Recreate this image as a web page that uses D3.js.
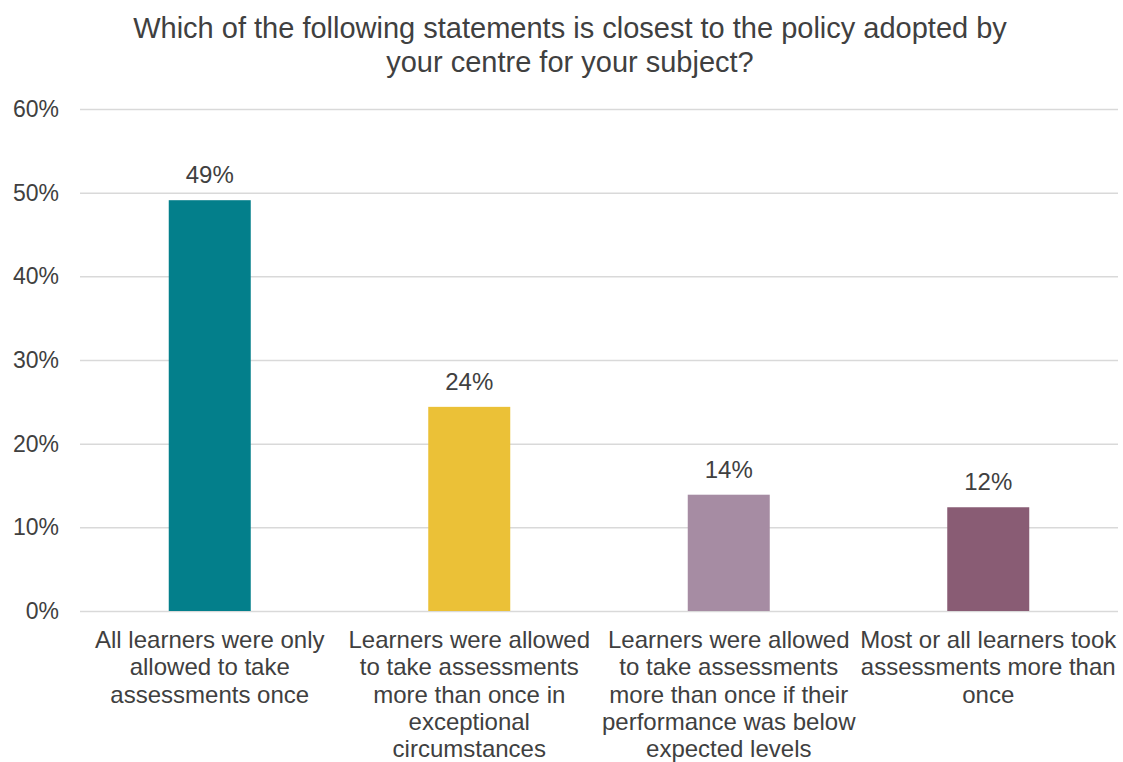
<!DOCTYPE html>
<html>
<head>
<meta charset="utf-8">
<script src="https://cdn.jsdelivr.net/npm/d3@7"></script>
<style>
  html, body { margin: 0; padding: 0; background: #fff; }
  svg { display: block; font-family: "Liberation Sans", Arial, sans-serif; }
</style>
</head>
<body>
<svg id="chart" width="1123" height="762"></svg>
<script>
// Survey responses: share of centres choosing each policy statement
const categories = [
  ["All learners were only", "allowed to take", "assessments once"],
  ["Learners were allowed", "to take assessments", "more than once in", "exceptional", "circumstances"],
  ["Learners were allowed", "to take assessments", "more than once if their", "performance was below", "expected levels"],
  ["Most or all learners took", "assessments more than", "once"]
];
const values = [0.491, 0.244, 0.139, 0.124];
const barColors = ["#037f8b", "#ebc137", "#a68ca3", "#895c74"];
const yTicks = [0, 0.1, 0.2, 0.3, 0.4, 0.5, 0.6];
const titleLines = [
  "Which of the following statements is closest to the policy adopted by",
  "your centre for your subject?"
];

const svg = d3.select("#chart");
const margin = { left: 80, right: 5, top: 109, bottom: 151 };
const W = 1123, H = 762;

const x = d3.scaleBand()
  .domain(d3.range(values.length))
  .range([margin.left, W - margin.right])
  .paddingInner(0.684)
  .paddingOuter(0.342);

const y = d3.scaleLinear()
  .domain([0, 0.6])
  .range([H - margin.bottom, margin.top]);

const pct = d3.format(".0%");

// Title
svg.append("g")
  .selectAll("text")
  .data(titleLines)
  .join("text")
  .attr("x", 570)
  .attr("y", (d, i) => 38 + i * 34)
  .attr("text-anchor", "middle")
  .attr("font-size", 29)
  .attr("fill", "#404040")
  .text(d => d);

// Gridlines and y-axis labels
const yAxis = d3.axisLeft(y)
  .tickValues(yTicks)
  .tickFormat(pct)
  .tickSize(-(W - margin.right - margin.left))
  .tickPadding(21);

const gy = svg.append("g")
  .attr("transform", `translate(${margin.left},0)`)
  .call(yAxis);
gy.select(".domain").remove();
gy.selectAll(".tick line")
  .attr("stroke", "#d9d9d9")
  .attr("stroke-width", 1.5);
gy.selectAll(".tick text")
  .attr("font-size", 23)
  .attr("fill", "#404040")
  .attr("font-family", "Liberation Sans, Arial, sans-serif");

// Bars
svg.append("g")
  .selectAll("rect")
  .data(values)
  .join("rect")
  .attr("x", (d, i) => x(i))
  .attr("width", x.bandwidth())
  .attr("y", d => y(d))
  .attr("height", d => y(0) - y(d))
  .attr("fill", (d, i) => barColors[i]);

// Value labels
svg.append("g")
  .selectAll("text")
  .data(values)
  .join("text")
  .attr("x", (d, i) => x(i) + x.bandwidth() / 2)
  .attr("y", d => y(d) - 17)
  .attr("text-anchor", "middle")
  .attr("font-size", 24)
  .attr("fill", "#404040")
  .text(d => pct(d));

// Category labels
const cat = svg.append("g")
  .selectAll("text")
  .data(categories)
  .join("text")
  .attr("text-anchor", "middle")
  .attr("font-size", 24)
  .attr("fill", "#404040");
cat.each(function(lines, i) {
  const cx = x(i) + x.bandwidth() / 2;
  d3.select(this).selectAll("tspan")
    .data(lines)
    .join("tspan")
    .attr("x", cx)
    .attr("y", (d, j) => 648 + j * 27.3)
    .text(d => d);
});
</script>
</body>
</html>
